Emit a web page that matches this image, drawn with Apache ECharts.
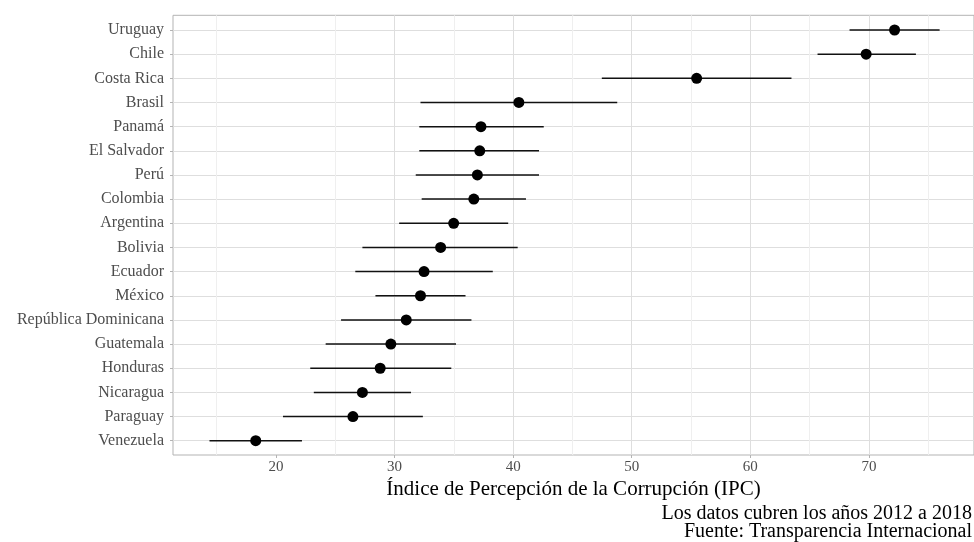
<!DOCTYPE html>
<html><head><meta charset="utf-8">
<script src="https://cdn.jsdelivr.net/npm/echarts@6/dist/echarts.min.js"></script>
<style>html,body{margin:0;padding:0;background:#fff}#c{width:974px;height:542px}</style>
</head><body><div id="c"></div>
<script>
const countries = ['Uruguay','Chile','Costa Rica','Brasil','Panamá','El Salvador','Perú','Colombia','Argentina','Bolivia','Ecuador','México','República Dominicana','Guatemala','Honduras','Nicaragua','Paraguay','Venezuela'];
const ipcMean = [72.2,69.8,55.5,40.5,37.3,37.2,37.0,36.7,35.0,33.9,32.5,32.2,31.0,29.7,28.8,27.3,26.5,18.3];
const ipcLow  = [68.4,65.7,47.5,32.2,32.1,32.1,31.8,32.3,30.4,27.3,26.7,28.4,25.5,24.2,22.9,23.2,20.6,14.4];
const ipcHigh = [76.0,74.0,63.5,48.8,42.6,42.2,42.2,41.1,39.6,40.4,38.3,36.0,36.5,35.2,34.8,31.4,32.4,22.2];
const xTicks = [20,30,40,50,60,70];
const xTitle = 'Índice de Percepción de la Corrupción (IPC)';
const caption1 = 'Los datos cubren los años 2012 a 2018';
const caption2 = 'Fuente: Transparencia Internacional';

// layout
const FONT = 'Liberation Serif';
const L = 173, T = 15.3, H = 439.7, FW = 801.5;
const S = 11.86;            // px per unit
const XMIN = 11.32;
const XMAX = XMIN + FW / S;
const firstRow = 30, rowStep = 24.16;
const n = countries.length;
const dataTop = firstRow - rowStep / 2;
const dataH = rowStep * n;

const chart = echarts.init(document.getElementById('c'), null, {renderer: 'canvas'});
chart.setOption({
  animation: false,
  backgroundColor: '#fff',
  title: [
    {text: caption1, right: 2, top: 504, padding: 0,
      textStyle: {fontFamily: FONT, fontSize: 20, fontWeight: 'normal', color: '#000'}},
    {text: caption2, right: 2, top: 522, padding: 0,
      textStyle: {fontFamily: FONT, fontSize: 20, fontWeight: 'normal', color: '#000'}}
  ],
  grid: [
    // frame
    {left: L, top: T, width: FW, height: H, show: true, borderColor: '#b3b3b3', borderWidth: 1, backgroundColor: 'transparent'},
    // minor grid lines (5..75)
    {left: L - (XMIN - 5) * S, top: T, width: 70 * S, height: H},
    // data
    {left: L, top: dataTop, width: FW, height: dataH},
    // major grid lines, ticks, labels (10..70)
    {left: L - (XMIN - 10) * S, top: T, width: 60 * S, height: H}
  ],
  xAxis: [
    {gridIndex: 0, type: 'value', min: XMIN, max: XMAX,
      axisLine: {show: false}, axisTick: {show: false}, axisLabel: {show: false}, splitLine: {show: false},
      name: xTitle, nameLocation: 'middle', nameGap: 24,
      nameTextStyle: {fontFamily: FONT, fontSize: 21, color: '#000'}},
    {gridIndex: 1, type: 'value', min: 5, max: 75, interval: 10,
      axisLine: {show: false}, axisTick: {show: false}, axisLabel: {show: false},
      splitLine: {show: true, showMinLine: false, showMaxLine: true, lineStyle: {color: '#efefef', width: 1}}},
    {gridIndex: 2, type: 'value', min: XMIN, max: XMAX, show: false},
    {gridIndex: 3, type: 'value', min: 10, max: 70, interval: 10,
      axisLine: {show: false},
      axisTick: {show: true, length: 3, lineStyle: {color: '#b3b3b3'}, customValues: xTicks},
      axisLabel: {customValues: xTicks, margin: 5, fontFamily: FONT, fontSize: 15, color: '#4d4d4d'},
      splitLine: {show: true, showMinLine: false, showMaxLine: true, lineStyle: {color: '#dedede', width: 1}}}
  ],
  yAxis: [
    {gridIndex: 0, type: 'value', show: false},
    {gridIndex: 1, type: 'value', show: false},
    {gridIndex: 2, type: 'category', data: countries, inverse: true, boundaryGap: true,
      axisLine: {show: false},
      axisTick: {show: true, length: 3, alignWithLabel: true, lineStyle: {color: '#b3b3b3'}},
      axisLabel: {margin: 9, fontFamily: FONT, fontSize: 16, color: '#4d4d4d'},
      splitLine: {show: true, alignWithLabel: true, lineStyle: {color: '#dedede', width: 1}}},
    {gridIndex: 3, type: 'value', show: false}
  ],
  series: [
    {type: 'custom', xAxisIndex: 2, yAxisIndex: 2,
      data: countries.map((c, i) => [ipcLow[i], ipcHigh[i], i]),
      encode: {x: [0, 1], y: 2},
      renderItem: function (params, api) {
        const p1 = api.coord([api.value(0), api.value(2)]);
        const p2 = api.coord([api.value(1), api.value(2)]);
        return {type: 'line', shape: {x1: p1[0], y1: p1[1], x2: p2[0], y2: p2[1]},
          style: {stroke: '#111', lineWidth: 1.5}};
      },
      z: 3
    },
    {type: 'scatter', xAxisIndex: 2, yAxisIndex: 2,
      data: countries.map((c, i) => [ipcMean[i], c]),
      symbol: 'circle', symbolSize: 11, itemStyle: {color: '#000', opacity: 1}, z: 4
    }
  ]
});
</script>
</body></html>
